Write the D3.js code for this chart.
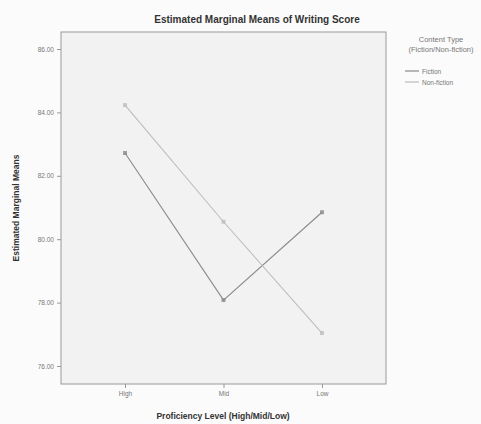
<!DOCTYPE html>
<html><head><meta charset="utf-8">
<script src="https://cdn.jsdelivr.net/npm/d3@7"></script>
<style>body{margin:0;background:#fbfbfb;}svg{display:block;font-family:Arial,"Liberation Sans",sans-serif;}</style>
</head><body>
<svg id="c" width="481" height="424"></svg>
<script>
const categories = ["High", "Mid", "Low"];
const fictionValues = [82.72, 78.08, 80.85];
const nonFictionValues = [84.23, 80.55, 77.04];
const yTicks = [76, 78, 80, 82, 84, 86];
const seriesNames = ["Fiction", "Non-fiction"];

const svg = d3.select("#c");
const L = 61, R = 386, T = 32, B = 384;
svg.append("rect").attr("x", L).attr("y", T).attr("width", R - L).attr("height", B - T)
  .attr("fill", "#f2f2f2").attr("stroke", "#9a9a9a").attr("stroke-width", 1);

const x = d3.scalePoint().domain(categories).range([125, 322]);
const y = d3.scaleLinear().domain([76, 86]).range([366, 49]);

const yAxis = svg.append("g").attr("transform", `translate(${L},0)`)
  .call(d3.axisLeft(y).tickValues(yTicks).tickFormat(d3.format(".2f")).tickSize(4).tickSizeOuter(0));
yAxis.select(".domain").remove();
yAxis.selectAll("line").attr("stroke", "#999");
yAxis.selectAll("text").attr("font-size", 6.5).attr("fill", "#777");

const xAxis = svg.append("g").attr("transform", `translate(0,${B})`)
  .call(d3.axisBottom(x).tickSize(4).tickSizeOuter(0));
xAxis.select(".domain").remove();
xAxis.selectAll("line").attr("stroke", "#999");
xAxis.selectAll("text").attr("font-size", 6.5).attr("fill", "#777");

const series = [
  {name: seriesNames[0], values: fictionValues, color: "#8a8a8a"},
  {name: seriesNames[1], values: nonFictionValues, color: "#bdbdbd"}
];
const line = d3.line().x((d, i) => x(categories[i])).y(d => y(d));
series.forEach(s => {
  svg.append("path").datum(s.values).attr("d", line).attr("fill", "none")
    .attr("stroke", s.color).attr("stroke-width", 1.1);
  svg.selectAll(null).data(s.values).enter().append("rect")
    .attr("x", (d, i) => x(categories[i]) - 2).attr("y", d => y(d) - 2)
    .attr("width", 4).attr("height", 4).attr("fill", s.color).attr("opacity", 0.8);
});

svg.append("text").attr("x", 257).attr("y", 23).attr("text-anchor", "middle")
  .attr("font-size", 10).attr("font-weight", "bold").attr("fill", "#333")
  .text("Estimated Marginal Means of Writing Score");
svg.append("text").attr("transform", "translate(19,208) rotate(-90)").attr("text-anchor", "middle")
  .attr("font-size", 8.5).attr("font-weight", "bold").attr("fill", "#333")
  .text("Estimated Marginal Means");
svg.append("text").attr("x", 223).attr("y", 419).attr("text-anchor", "middle")
  .attr("font-size", 8.5).attr("font-weight", "bold").attr("fill", "#333")
  .text("Proficiency Level (High/Mid/Low)");

const lg = svg.append("g");
lg.append("text").attr("x", 441).attr("y", 42).attr("text-anchor", "middle")
  .attr("font-size", 7.5).attr("fill", "#777").text("Content Type");
lg.append("text").attr("x", 441).attr("y", 52).attr("text-anchor", "middle")
  .attr("font-size", 7.5).attr("fill", "#777").text("(Fiction/Non-fiction)");
series.forEach((s, i) => {
  const yy = 71 + i * 11;
  lg.append("line").attr("x1", 405).attr("x2", 419).attr("y1", yy).attr("y2", yy)
    .attr("stroke", s.color).attr("stroke-width", 1.2);
  lg.append("text").attr("x", 422).attr("y", yy + 2.5).attr("font-size", 6.5)
    .attr("fill", "#777").text(s.name);
});
</script>
</body></html>
